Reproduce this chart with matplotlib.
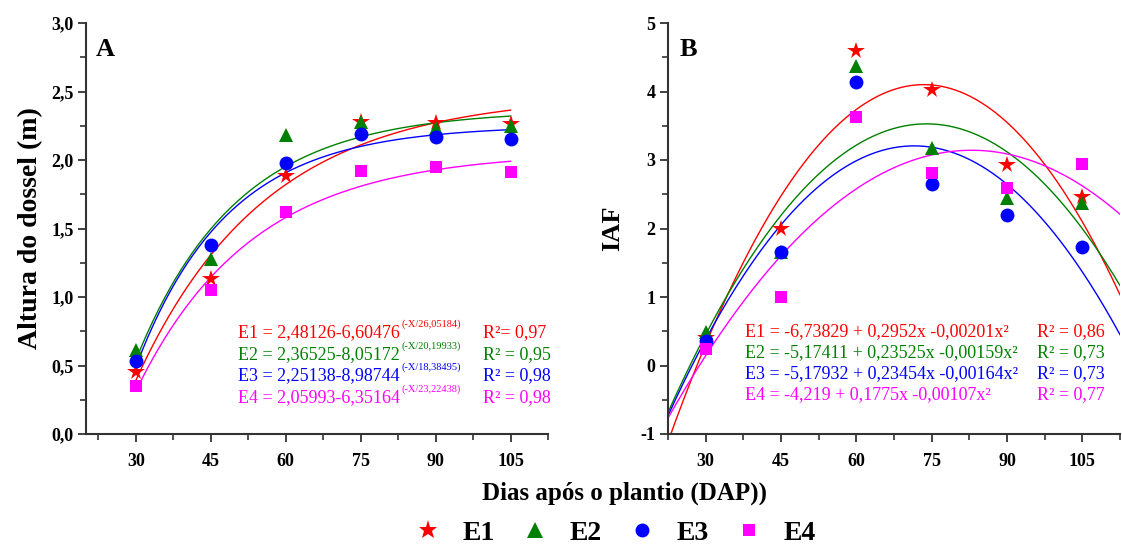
import numpy as np
import matplotlib
matplotlib.use("Agg")
import matplotlib.pyplot as plt
from matplotlib.lines import Line2D
from matplotlib.ticker import MultipleLocator, FixedLocator

plt.rcParams['font.family'] = ['Liberation Serif', 'DejaVu Serif']

# ---------------- data ----------------
dap = [30, 45, 60, 75, 90, 105]
series = ['E1', 'E2', 'E3', 'E4']
colors = ['#ff0000', '#008000', '#0000ff', '#ff00ff']
markers = ['*', '^', 'o', 's']

# Panel A: canopy height (m)
altura_E1 = [0.45, 1.13, 1.88, 2.28, 2.27, 2.26]
altura_E2 = [0.61, 1.28, 2.18, 2.28, 2.23, 2.25]
altura_E3 = [0.53, 1.38, 1.98, 2.19, 2.17, 2.15]
altura_E4 = [0.35, 1.05, 1.62, 1.92, 1.95, 1.91]

# exponential fits y = a - b*exp(-x/c)
exp_a = [2.48126, 2.36525, 2.25138, 2.05993]
exp_b = [6.60476, 8.05172, 8.98744, 6.35164]
exp_c = [26.05184, 20.19933, 18.38495, 23.22438]
exp_a_txt = ['2,48126', '2,36525', '2,25138', '2,05993']
exp_b_txt = ['6,60476', '8,05172', '8,98744', '6,35164']
exp_c_txt = ['26,05184', '20,19933', '18,38495', '23,22438']
r2_A = ['0,97', '0,95', '0,98', '0,98']

# Panel B: IAF
iaf_E1 = [0.40, 2.00, 4.59, 4.02, 2.93, 2.46]
iaf_E2 = [0.49, 1.66, 4.37, 3.17, 2.45, 2.37]
iaf_E3 = [0.36, 1.66, 4.14, 2.65, 2.20, 1.73]
iaf_E4 = [0.24, 1.00, 3.63, 2.81, 2.59, 2.94]

# quadratic fits y = c0 + c1 x + c2 x^2
q_c0 = [-6.73829, -5.17411, -5.17932, -4.219]
q_c1 = [0.2952, 0.23525, 0.23454, 0.1775]
q_c2 = [-0.00201, -0.00159, -0.00164, -0.00107]
quad_txt = ['E1 = -6,73829 + 0,2952x -0,00201x\u00b2',
            'E2 = -5,17411 + 0,23525x -0,00159x\u00b2',
            'E3 = -5,17932 + 0,23454x -0,00164x\u00b2',
            'E4 = -4,219 + 0,1775x -0,00107x\u00b2']
r2_B = ['R\u00b2 = 0,86', 'R\u00b2 = 0,73', 'R\u00b2 = 0,73', 'R\u00b2 = 0,77']

altura = [altura_E1, altura_E2, altura_E3, altura_E4]
iaf = [iaf_E1, iaf_E2, iaf_E3, iaf_E4]
msizes = [13, 10, 10, 9]
leg_msizes = [14, 12, 10, 9]

W, H = 1122, 545
fig = plt.figure(figsize=(W / 100, H / 100), dpi=100)

def px_axes(l, r, t, b):
    return fig.add_axes([l / W, 1 - b / H, (r - l) / W, (b - t) / H])

axA = px_axes(86, 548, 23, 434)
axB = px_axes(668, 1120, 23, 434)

def style(ax):
    for s in ['top', 'right']:
        ax.spines[s].set_visible(False)
    for s in ['left', 'bottom']:
        ax.spines[s].set_linewidth(1.5)
        ax.spines[s].set_color('#333333')
    ax.tick_params(which='major', direction='out', length=6, width=1.3,
                   color='#333333', labelsize=13)
    ax.tick_params(which='minor', direction='out', length=4, width=1.2,
                   color='#333333')
    ax.tick_params(axis='x', pad=8)
    ax.tick_params(axis='y', pad=3)
    for lab in ax.get_xticklabels() + ax.get_yticklabels():
        lab.set_fontweight('bold')

# ---------- Panel A ----------
xs = np.linspace(30, 105, 200)
for i in range(4):
    axA.plot(xs, exp_a[i] - exp_b[i] * np.exp(-xs / exp_c[i]), color=colors[i], lw=1.0, zorder=2)
for i in range(4):
    axA.plot(dap, altura[i], linestyle='none', marker=markers[i], color=colors[i],
             markersize=msizes[i], markeredgewidth=0, zorder=3)
axA.set_xlim(20, 112.5)
axA.set_ylim(0, 3.0)
axA.set_xticks(dap)
axA.xaxis.set_minor_locator(FixedLocator([22.5, 37.5, 52.5, 67.5, 82.5, 97.5, 112.5]))
axA.set_yticks(np.arange(0, 3.01, 0.5))
axA.yaxis.set_minor_locator(MultipleLocator(0.25))
axA.set_yticklabels([f'{v:.1f}'.replace('.', ',') for v in np.arange(0, 3.01, 0.5)])
axA.set_xticklabels([str(d) for d in dap])
style(axA)
axA.set_ylabel('Altura do dossel (m)', fontsize=20, fontweight='bold', labelpad=6)

# ---------- Panel B ----------
xq = np.linspace(22.5, 112.5, 300)
for i in range(4):
    axB.plot(xq, q_c0[i] + q_c1[i] * xq + q_c2[i] * xq ** 2, color=colors[i], lw=1.0, zorder=2)
for i in range(4):
    axB.plot(dap, iaf[i], linestyle='none', marker=markers[i], color=colors[i],
             markersize=msizes[i], markeredgewidth=0, zorder=3)
axB.set_xlim(22.5, 112.5)
axB.set_ylim(-1, 5)
axB.set_xticks(dap)
axB.xaxis.set_minor_locator(FixedLocator([22.5, 37.5, 52.5, 67.5, 82.5, 97.5, 112.5]))
axB.set_yticks(range(-1, 6))
axB.yaxis.set_minor_locator(MultipleLocator(0.5))
axB.set_xticklabels([str(d) for d in dap])
axB.set_yticklabels([str(v) for v in range(-1, 6)])
style(axB)
axB.set_ylabel('IAF', fontsize=19, fontweight='bold', labelpad=12)

# panel letters (figure pixel coords)
fig.text(96 / W, 1 - 56 / H, 'A', fontsize=19, fontweight='bold')
fig.text(680 / W, 1 - 56 / H, 'B', fontsize=19, fontweight='bold')

# equations A
rowsA = [333, 355, 376, 398]
fig.canvas.draw()
renderer = fig.canvas.get_renderer()
for i in range(4):
    t = fig.text(238 / W, 1 - rowsA[i] / H,
                 f'{series[i]} = {exp_a_txt[i]}-{exp_b_txt[i]}',
                 fontsize=13, color=colors[i], va='center', ha='left')
    bb = t.get_window_extent(renderer)
    fig.text((bb.x1 + 2) / W, 1 - (rowsA[i] - 9) / H,
             f'(-X/{exp_c_txt[i]})', fontsize=7.5, color=colors[i], va='center', ha='left')
    fig.text(483 / W, 1 - rowsA[i] / H, 'R\u00b2= ' + r2_A[i] if i == 0 else 'R\u00b2 = ' + r2_A[i],
             fontsize=13, color=colors[i], va='center', ha='left')

# equations B
rowsB = [332, 353, 374, 395]
for i in range(4):
    fig.text(745 / W, 1 - rowsB[i] / H, quad_txt[i], fontsize=13, color=colors[i],
             va='center', ha='left')
    fig.text(1037 / W, 1 - rowsB[i] / H, r2_B[i], fontsize=13, color=colors[i],
             va='center', ha='left')

# common x label
fig.text(624 / W, 1 - 493 / H, 'Dias após o plantio (DAP))', fontsize=18,
         fontweight='bold', ha='center', va='center')

# legend
handles = [Line2D([], [], linestyle='none', marker=markers[i], color=colors[i],
                  markersize=leg_msizes[i], markeredgewidth=0) for i in range(4)]
fig.legend(handles, series, ncol=4, loc='center', bbox_to_anchor=(615 / W, 1 - 533 / H),
           frameon=False, prop={'family': 'Liberation Serif', 'weight': 'bold', 'size': 20},
           handlelength=1.0, handletextpad=0.75, columnspacing=0.95, borderpad=0)

fig.savefig('out.png', dpi=100)
